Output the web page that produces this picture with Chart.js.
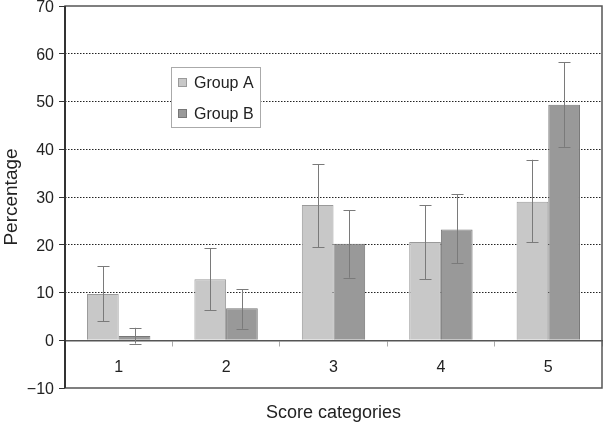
<!DOCTYPE html>
<html>
<head>
<meta charset="utf-8">
<script src="https://cdn.jsdelivr.net/npm/chart.js@4/dist/chart.umd.min.js"></script>
<style>html,body{margin:0;padding:0;background:#fff;}canvas{display:block;}</style>
</head>
<body>
<canvas id="c" width="603" height="426"></canvas>
<script>
const categories = ['1', '2', '3', '4', '5'];
const seriesNames = ['Group A', 'Group B'];
const groupA = [9.7, 12.8, 28.3, 20.6, 29.0];
const groupB = [0.9, 6.7, 20.2, 23.2, 49.3];
const groupALow = [4.0, 6.3, 19.5, 12.8, 20.5];
const groupAHigh = [15.5, 19.3, 36.9, 28.3, 37.8];
const groupBLow = [-0.7, 2.4, 13.1, 16.1, 40.5];
const groupBHigh = [2.6, 10.7, 27.2, 30.6, 58.2];
const yMin = -10, yMax = 70, yStep = 10;
const xTitle = 'Score categories';
const yTitle = 'Percentage';

const FONT = "'Liberation Sans', Arial, sans-serif";
const errLows = [groupALow, groupBLow];
const errHighs = [groupAHigh, groupBHigh];

const errorBars = {
  id: 'errorBars',
  afterDatasetsDraw(chart) {
    const ctx = chart.ctx, ys = chart.scales.y;
    ctx.save();
    ctx.strokeStyle = '#7a7a7a';
    ctx.lineWidth = 1;
    chart.data.datasets.forEach((ds, i) => {
      const meta = chart.getDatasetMeta(i);
      meta.data.forEach((bar, j) => {
        const x = Math.round(bar.x) + 0.5;
        const yl = ys.getPixelForValue(errLows[i][j]);
        const yh = ys.getPixelForValue(errHighs[i][j]);
        ctx.beginPath();
        ctx.moveTo(x, yl); ctx.lineTo(x, yh);
        ctx.moveTo(x - 6, Math.round(yl) + 0.5); ctx.lineTo(x + 6, Math.round(yl) + 0.5);
        ctx.moveTo(x - 6, Math.round(yh) + 0.5); ctx.lineTo(x + 6, Math.round(yh) + 0.5);
        ctx.stroke();
      });
    });
    // frame
    const a = chart.chartArea;
    ctx.strokeStyle = '#555';
    ctx.lineWidth = 1.5;
    ctx.strokeRect(a.left, a.top, a.right - a.left, a.bottom - a.top);
    ctx.strokeStyle = '#333';
    ctx.lineWidth = 2;
    ctx.beginPath(); ctx.moveTo(a.left, a.top); ctx.lineTo(a.left, a.bottom); ctx.stroke();
    ctx.restore();
  }
};

const boxLegend = {
  id: 'boxLegend',
  afterDraw(chart) {
    const ctx = chart.ctx, a = chart.chartArea;
    const bx = a.left + 106, by = a.top + 61, bw = 89, bh = 60;
    ctx.save();
    ctx.fillStyle = '#fff';
    ctx.fillRect(bx, by, bw, bh);
    ctx.strokeStyle = '#aaa';
    ctx.lineWidth = 1;
    ctx.strokeRect(bx + 0.5, by + 0.5, bw, bh);
    ctx.font = '16px ' + FONT;
    ctx.textBaseline = 'middle';
    chart.data.datasets.forEach((ds, i) => {
      const cy = by + 16 + i * 31;
      ctx.fillStyle = ds.backgroundColor;
      ctx.fillRect(bx + 7, cy - 5, 9, 9);
      ctx.strokeStyle = ds.borderColor;
      ctx.strokeRect(bx + 7.5, cy - 4.5, 8, 8);
      ctx.fillStyle = '#222';
      ctx.fillText(ds.label, bx + 23, cy + 1);
    });
    ctx.restore();
  }
};

new Chart(document.getElementById('c'), {
  type: 'bar',
  data: {
    labels: categories,
    datasets: [
      { label: seriesNames[0], data: groupA, backgroundColor: '#c8c8c8', borderColor: '#9a9a9a', borderWidth: 1 },
      { label: seriesNames[1], data: groupB, backgroundColor: '#999999', borderColor: '#777777', borderWidth: 1 }
    ]
  },
  options: {
    responsive: false,
    devicePixelRatio: 1,
    animation: false,
    categoryPercentage: 0.59,
    barPercentage: 1.0,
    layout: { padding: { top: 6, right: 1, left: 0, bottom: 0 } },
    plugins: {
      legend: { display: false },
      tooltip: { enabled: false },
      title: {
        display: true, position: 'bottom', fullSize: false, text: xTitle, color: '#222',
        font: { family: FONT, size: 18, weight: 'normal' },
        padding: { top: 14, bottom: 2.4 }
      }
    },
    scales: {
      x: {
        position: { y: 0 },
        offset: true,
        grid: { offset: true, drawOnChartArea: false, drawTicks: true, tickLength: 5, color: '#aaa', tickColor: '#aaa' },
        border: { display: true, color: '#555', width: 1.5 },
        ticks: { font: { family: FONT, size: 16 }, color: '#222', padding: 13 }
      },
      y: {
        min: yMin, max: yMax,
        afterFit(s) { s.width = 65; s.paddingTop = 0; s.paddingBottom = 0; },
        title: { display: true, text: yTitle, color: '#222', font: { family: FONT, size: 19 }, padding: 0 },
        ticks: {
          stepSize: yStep, color: '#222', font: { family: FONT, size: 16 }, padding: 5, labelOffset: 1.5,
          callback: v => String(v).replace('-', '\u2212')
        },
        grid: {
          color: c => (c.tick && (c.tick.value === 0 || c.tick.value === yMin || c.tick.value === yMax)) ? 'rgba(0,0,0,0)' : '#222',
          lineWidth: 1, tickLength: 6, tickColor: '#333', tickBorderDash: [], drawTicks: true
        },
        border: { display: false, dash: [1.5, 1.5] }
      }
    }
  },
  plugins: [errorBars, boxLegend]
});
</script>
</body>
</html>
